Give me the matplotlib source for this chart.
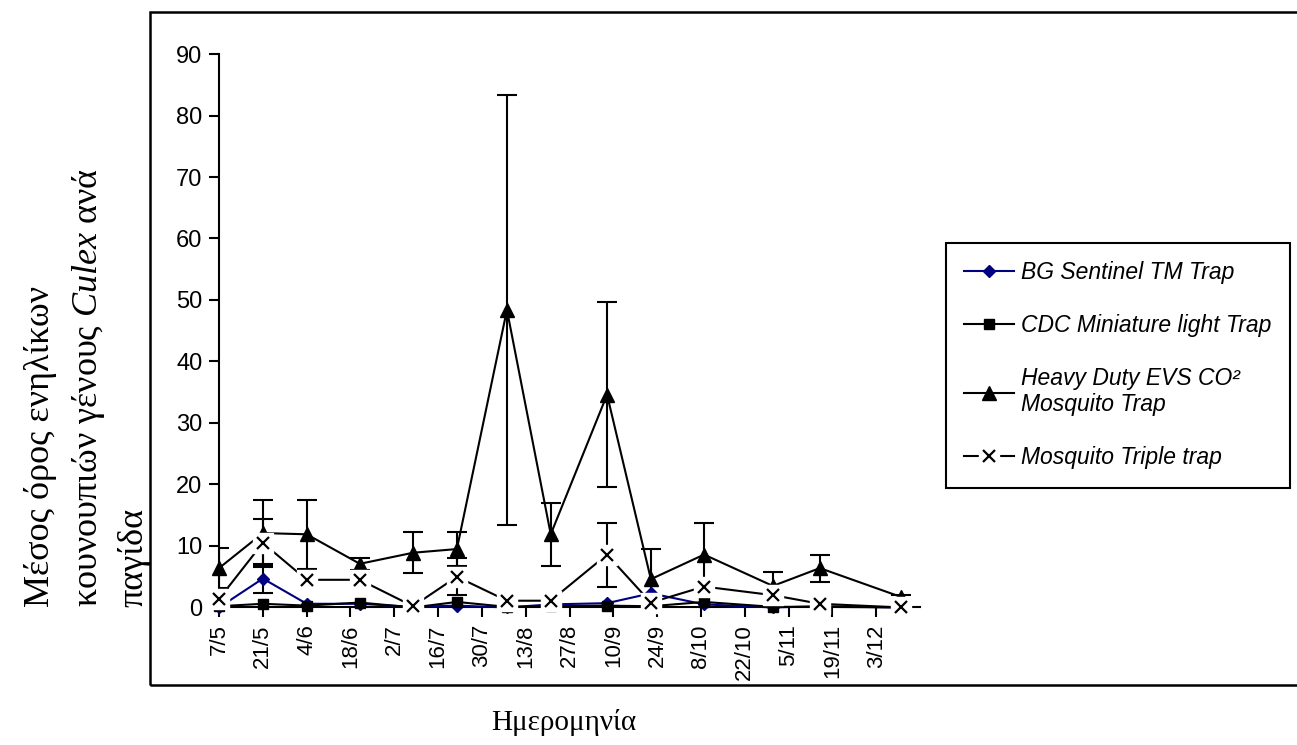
import datetime as dt
import numpy as np
import matplotlib
matplotlib.use('Agg')
import matplotlib.pyplot as plt
from matplotlib.patches import Rectangle
from matplotlib.legend_handler import HandlerTuple

plt.rcParams['font.family'] = ['Liberation Sans', 'DejaVu Sans']
plt.rcParams['mathtext.fontset'] = 'custom'
plt.rcParams['mathtext.it'] = 'Liberation Serif:italic'
plt.rcParams['mathtext.rm'] = 'Liberation Serif'

YEAR = 2009

# sampling dates (day/month)
dates = ['7/5', '21/5', '4/6', '21/6', '8/7', '22/7', '7/8', '21/8',
         '8/9', '22/9', '9/10', '31/10', '15/11', '11/12']

bg = [0.0, 4.7, 0.6, 0.6, 0.1, 0.3, 0.0, 0.5, 0.7, 2.3, 0.5, 0.0, 0.2, 0.0]
bg_err = [0, 2.4, 0, 0, 0, 0, 0, 0, 0, 0, 0, 0, 0, 0]
cdc = [0.2, 0.6, 0.3, 0.8, 0.0, 0.9, 0.1, 0.2, 0.3, 0.2, 0.9, 0.1, 0.1, 0.0]
heavy = [6.4, 12.1, 11.9, 7.1, 8.9, 9.5, 48.4, 11.9, 34.6, 4.6, 8.6, 3.5, 6.4, 1.7]
heavy_err = [3.3, 5.4, 5.6, 1.0, 3.3, 2.8, 35.0, 5.1, 15.0, 4.9, 5.2, 2.3, 2.2, 0.3]
triple = [1.4, 10.5, 4.5, 4.5, 0.2, 5.0, 1.1, 1.1, 8.6, 0.8, 3.4, 2.0, 0.6, 0.0]
triple_err = [1.5, 3.9, 0, 0, 0, 3.0, 0, 0, 5.2, 0, 0, 0, 0, 0]

tick_labels = ['7/5', '21/5', '4/6', '18/6', '2/7', '16/7', '30/7', '13/8',
               '27/8', '10/9', '24/9', '8/10', '22/10', '5/11', '19/11', '3/12']
x_end = '17/12'

labels = ['BG Sentinel TM Trap', 'CDC Miniature light Trap',
          'Heavy Duty EVS CO² \nMosquito Trap', 'Mosquito Triple trap']


def to_date(s):
    d, m = s.split('/')
    return dt.datetime(YEAR, int(m), int(d))


x = np.array([to_date(s) for s in dates])
ticks = [to_date(s) for s in tick_labels]

fig = plt.figure(figsize=(12.97, 7.45), dpi=100)
ax = fig.add_axes([0.1689, 0.1846, 0.5404, 0.7429])

# outer chart border (right edge runs off the picture)
fig.patches.append(Rectangle((0.1157, 0.0805), 1.0, 0.9035, transform=fig.transFigure,
                             fill=False, edgecolor='black', linewidth=1.8, zorder=0))


def err(vals, errs, color='black'):
    vals = np.array(vals)
    errs = np.array(errs)
    k = errs > 0
    ax.errorbar(x[k], vals[k], yerr=errs[k], fmt='none', ecolor=color,
                elinewidth=1.5, capsize=7, capthick=1.5, zorder=2)


err(heavy, heavy_err)
err(triple, triple_err)
err(bg, bg_err)

l_bg, = ax.plot(x, bg, color='#000080', lw=1.5, marker='D', ms=6.5, zorder=3)
l_cdc, = ax.plot(x, cdc, color='black', lw=1.5, marker='s', ms=7.5, zorder=3)
l_heavy, = ax.plot(x, heavy, color='black', lw=1.5, marker='^', ms=10, zorder=3)
l_tri, = ax.plot(x, triple, color='black', lw=1.5, zorder=3)
l_tri_bg, = ax.plot(x, triple, ls='none', marker='s', ms=14, mfc='white', mec='white', zorder=4)
l_tri_x, = ax.plot(x, triple, ls='none', marker='x', ms=9, mew=1.6, color='black', zorder=5)

ax.set_ylim(0, 90)
ax.set_yticks(np.arange(0, 91, 10))
ax.set_xlim(to_date(tick_labels[0]), to_date(x_end))
ax.set_xticks(ticks)
ax.set_xticklabels(tick_labels, rotation=90)
ax.tick_params(axis='both', width=1.5, length=7, direction='out', color='black')
ax.tick_params(axis='x', pad=5, labelsize=16)
ax.tick_params(axis='y', pad=5, labelsize=17)
for side in ['top', 'right']:
    ax.spines[side].set_visible(False)
for side in ['left', 'bottom']:
    ax.spines[side].set_linewidth(1.5)
for c in [l_bg, l_cdc, l_heavy, l_tri, l_tri_bg, l_tri_x]:
    c.set_clip_on(False)

ylab_lines = ['Μέσος όρος ενηλίκων', r'κουνουπιών γένους $\mathit{Culex}$ ανά', 'παγίδα']
for xpos, txt in zip([0.031, 0.068, 0.103], ylab_lines):
    fig.text(xpos, 0.185, txt, rotation=90, fontsize=26, family='Liberation Serif',
             ha='center', va='bottom')

fig.text(0.435, 0.03, 'Ημερομηνία', fontsize=21, family='Liberation Serif',
         ha='center', va='center')

leg = fig.legend([l_bg, l_cdc, l_heavy, (l_tri, l_tri_bg, l_tri_x)], labels,
                 handler_map={tuple: HandlerTuple(ndivide=1, pad=0)},
                 loc='upper left', bbox_to_anchor=(0.729, 0.674),
                 prop={'family': 'Liberation Sans', 'style': 'italic', 'size': 16.5},
                 frameon=True, fancybox=False, edgecolor='black', framealpha=1,
                 borderpad=0.8, labelspacing=1.3, handlelength=2.2, handletextpad=0.3,
                 borderaxespad=0)
leg.get_frame().set_linewidth(1.5)

fig.savefig('out.png', dpi=100)
